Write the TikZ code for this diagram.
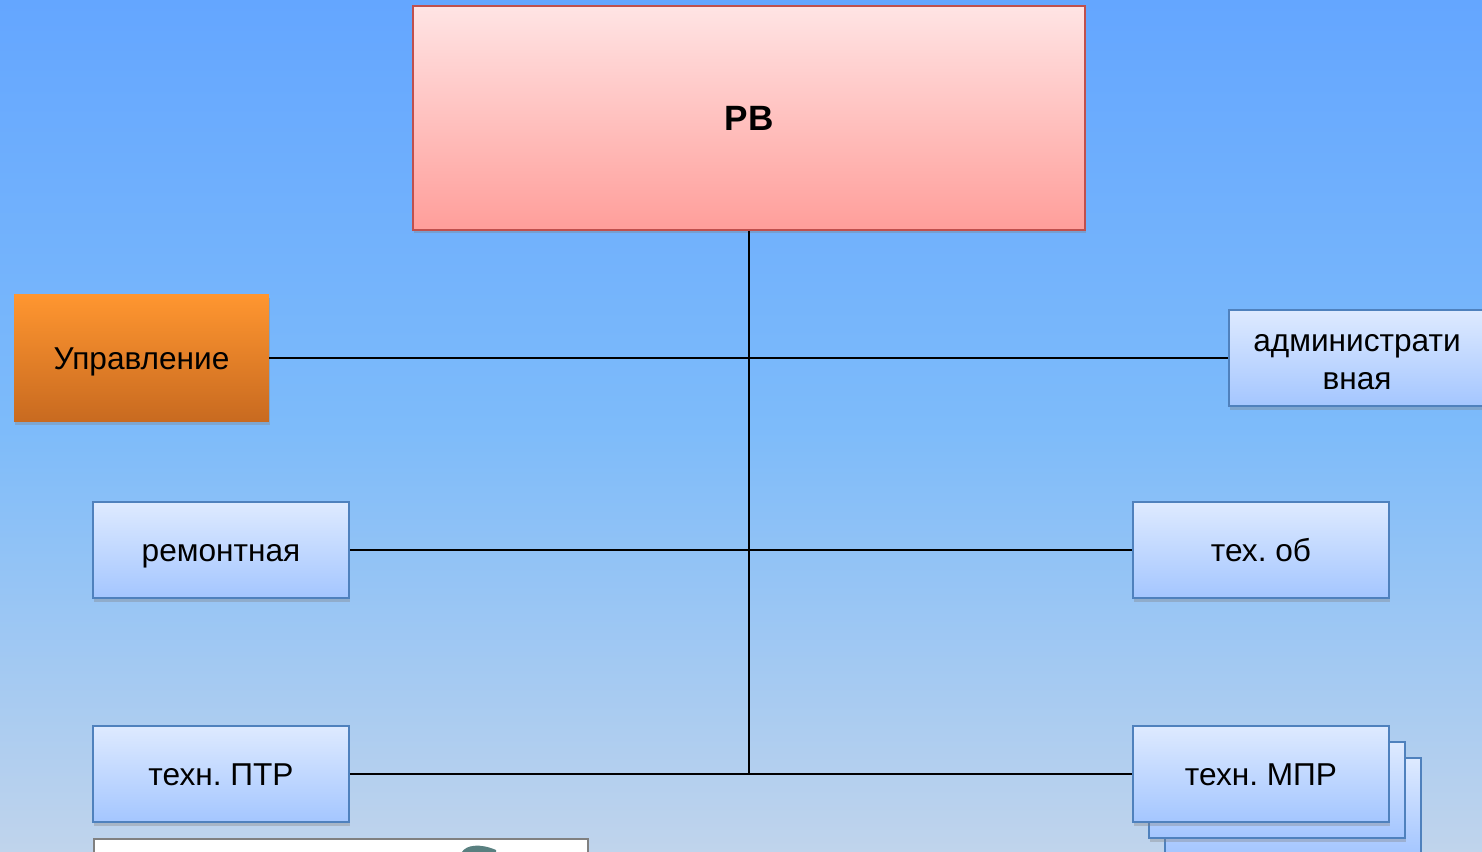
\documentclass[tikz,border=0pt]{standalone}
\usepackage{fontspec}
\setmainfont{Liberation Sans}
\usetikzlibrary{shadows}
\frenchspacing

\definecolor{bgtop}{RGB}{100,166,255}
\definecolor{bgmid}{RGB}{125,187,250}
\definecolor{bgbot}{RGB}{192,212,236}
\definecolor{unitline}{RGB}{79,129,189}
\definecolor{unittop}{RGB}{222,234,255}
\definecolor{unitbot}{RGB}{164,198,255}
\definecolor{bossline}{RGB}{192,80,77}
\definecolor{bosstop}{RGB}{255,228,228}
\definecolor{bossbot}{RGB}{255,158,154}
\definecolor{mgmttop}{RGB}{255,150,48}
\definecolor{mgmtbot}{RGB}{200,106,32}

\tikzset{
  shade/.style={drop shadow={opacity=0.35,shadow xshift=0.6pt,shadow yshift=-2pt}},
  oneline/.style={text height=15pt,text depth=2pt},
  twoline/.style={text height=36pt,text depth=0pt},
  unit/.style={draw=unitline,line width=1.1pt,top color=unittop,bottom color=unitbot,
    minimum width=5.12cm,minimum height=1.92cm,inner sep=0pt,align=center,
    font=\fontsize{18}{21.5}\selectfont,shade},
  boss/.style={draw=bossline,line width=1.1pt,top color=bosstop,bottom color=bossbot,
    minimum width=13.44cm,minimum height=4.48cm,inner sep=0pt,
    font=\fontsize{20}{24}\selectfont\bfseries,shade},
  mgmt/.style={draw=none,top color=mgmttop,bottom color=mgmtbot,
    minimum width=5.1cm,minimum height=2.54cm,inner sep=0pt,
    font=\fontsize{18}{21.5}\selectfont,shade,oneline},
  link/.style={line width=1.1pt,black}
}

\begin{document}
\begin{tikzpicture}[x=0.02cm,y=-0.02cm]

\useasboundingbox (0,0) rectangle (1482,852);
\shade[top color=bgtop,bottom color=bgbot,middle color=bgmid] (0,0) rectangle (1482,852);

% top box
\node[boss] (rv) at (749,118) {РВ};

% left side
\node[mgmt] (upr) at (141.5,358) {Управление};
\node[unit,oneline] (rem) at (221,550) {ремонтная};
\node[unit,oneline] (ptr) at (221,774) {техн. ПТР};

% right side
\node[unit,twoline] (adm) at (1357,358) {администрати\\вная};
\node[unit,oneline] (tob) at (1261,550) {тех. об};
\node[unit] (mpr3) at (1293,806) {};
\node[unit] (mpr2) at (1277,790) {};
\node[unit,oneline] (mpr) at (1261,774) {техн. МПР};

% connectors
\coordinate (hub) at (rv.south |- ptr.east);
\draw[link] (rv.south) -- (hub);
\draw[link] (upr.east) -- (adm.west);
\draw[link] (rem.east) -- (tob.west);
\draw[link] (ptr.east) -- (mpr.west);

% cut-off picture at the bottom
\draw[draw=gray,line width=1pt,fill=white] (94,839) rectangle (588,870);
\fill[gray!70!teal] (462,852) .. controls (466,845) and (480,843) .. (496,850) -- (496,852) -- cycle;

\end{tikzpicture}
\end{document}
